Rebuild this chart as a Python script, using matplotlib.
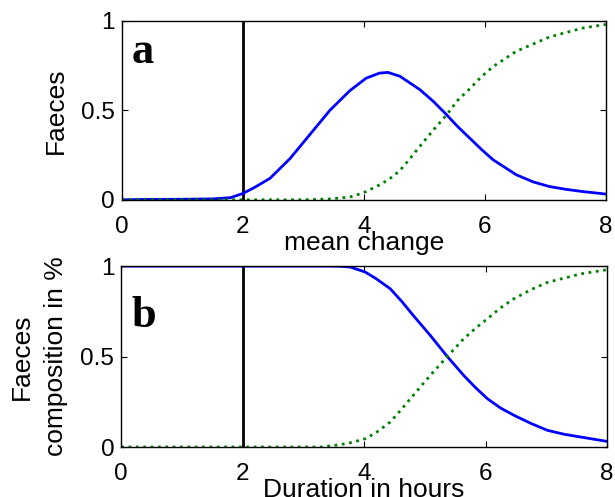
import matplotlib
matplotlib.use('Agg')
import matplotlib.pyplot as plt

# values read off the reference
# panel a
hours_a = [0, 0.4, 1.0, 1.5, 1.8, 2.0, 2.2, 2.45, 2.78, 3.11, 3.44, 3.77, 4.04, 4.26,
           4.4, 4.6, 4.93, 5.15, 5.37, 5.55, 5.75, 5.95, 6.14, 6.52, 6.8, 7.07, 7.35,
           7.62, 8.0]
faeces_a = [0.0, 0.002, 0.003, 0.005, 0.012, 0.035, 0.07, 0.12, 0.23, 0.365, 0.50, 0.61,
            0.68, 0.708, 0.712, 0.69, 0.615, 0.55, 0.475, 0.41, 0.345, 0.28, 0.223,
            0.14, 0.10, 0.074, 0.058, 0.046, 0.032]
hours_ga = [0, 3.0, 3.4, 3.77, 4.0, 4.15, 4.3, 4.48, 4.6, 4.75, 4.93, 5.15, 5.37, 5.55,
            5.75, 5.95, 6.14, 6.52, 7.07, 7.62, 8.0]
green_a = [0.0, 0.0, 0.004, 0.015, 0.04, 0.065, 0.09, 0.13, 0.165, 0.225, 0.30, 0.39,
           0.475, 0.555, 0.62, 0.69, 0.745, 0.83, 0.91, 0.96, 0.98]

# panel b
hours_b = [0, 3.4, 3.6, 3.77, 4.02, 4.2, 4.43, 4.62, 4.81, 5.09, 5.37, 5.64, 5.83, 6.03,
           6.25, 6.47, 6.75, 7.02, 7.3, 7.57, 8.0]
faeces_b = [1.0, 1.0, 0.999, 0.995, 0.967, 0.93, 0.875, 0.805, 0.727, 0.617, 0.50, 0.396,
            0.33, 0.267, 0.215, 0.175, 0.13, 0.092, 0.07, 0.055, 0.031]
hours_gb = [0, 3.3, 3.6, 3.8, 4.02, 4.2, 4.43, 4.62, 4.81, 5.09, 5.37, 5.64, 5.83, 6.03,
            6.25, 6.47, 6.75, 7.02, 7.57, 8.0]
green_b = [0.0, 0.0, 0.013, 0.025, 0.046, 0.08, 0.138, 0.21, 0.286, 0.396, 0.50, 0.598,
           0.655, 0.709, 0.77, 0.82, 0.87, 0.91, 0.957, 0.98]

change_time = 2

plt.rcParams['font.family'] = ['Liberation Sans', 'DejaVu Sans']
fs_label = 19
fs_tick = 17.5

fig = plt.figure(figsize=(6.15, 4.97), dpi=100)
ax1 = fig.add_axes([0.198, 0.598, 0.787, 0.360])
ax2 = fig.add_axes([0.197, 0.1006, 0.790, 0.364])

for ax in (ax1, ax2):
    ax.axvline(change_time, color='black', lw=2)
    ax.set_xlim(0, 8)
    ax.set_ylim(0, 1)
    ax.set_xticks([0, 2, 4, 6, 8])
    ax.set_yticks([0, 0.5, 1])
    ax.set_yticklabels(['0', '0.5', '1'])
    ax.tick_params(direction='in', top=True, right=True, labelsize=fs_tick, length=4)
    ax.tick_params(axis='x', pad=11.5)
    ax.tick_params(axis='y', pad=5)
    for s in ax.spines.values():
        s.set_linewidth(1.0)

ax1.plot(hours_a, faeces_a, color='#0000ff', lw=2)
ax1.plot(hours_ga, green_a, color='#008000', lw=2, ls=':')
ax1.set_ylabel('Faeces', fontsize=fs_label, labelpad=9.5)
ax1.set_xlabel('mean change', fontsize=fs_label, labelpad=-5)
ax1.text(0.17, 0.765, 'a', fontsize=32, fontweight='bold', family='Liberation Serif')

ax2.plot(hours_b, faeces_b, color='#0000ff', lw=2)
ax2.plot(hours_gb, green_b, color='#008000', lw=2, ls=':')
ax2.set_ylabel('Faeces\ncomposition in %', fontsize=fs_label, labelpad=9, linespacing=1.55)
ax2.set_xlabel('Duration in hours', fontsize=fs_label, labelpad=-5)
ax2.text(0.17, 0.665, 'b', fontsize=32, fontweight='bold', family='Liberation Serif')

fig.savefig('out.png', dpi=100)
